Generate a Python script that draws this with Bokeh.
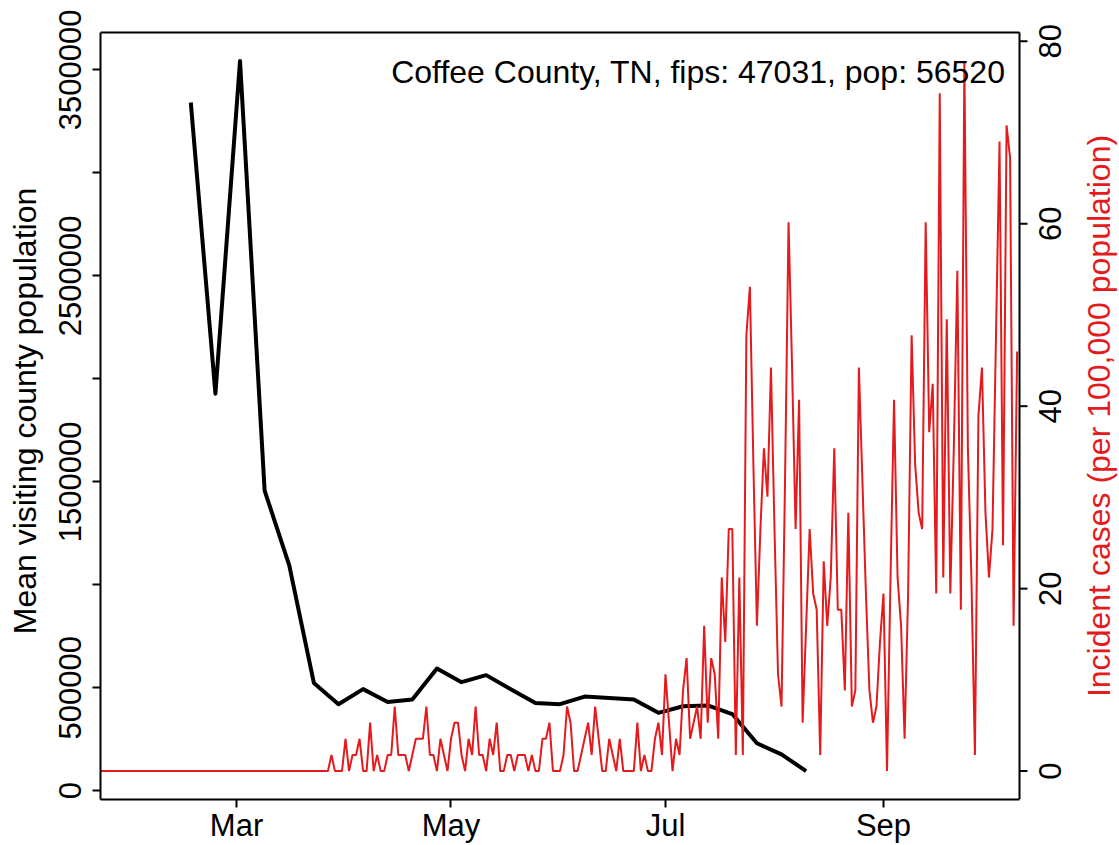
import math
import pandas as pd
from bokeh.plotting import figure
from bokeh.models import Range1d, FixedTicker, Label, BasicTickFormatter
from bokeh.core.properties import value
from bokeh.embed import file_html
from bokeh.resources import INLINE

# ---------------- data ----------------
origin = pd.Timestamp("2020-01-22")

visit_dates = ["2020-02-17", "2020-02-24", "2020-03-02", "2020-03-09", "2020-03-16",
               "2020-03-23", "2020-03-30", "2020-04-06", "2020-04-13", "2020-04-20",
               "2020-04-27", "2020-05-04", "2020-05-11", "2020-05-18", "2020-05-25",
               "2020-06-01", "2020-06-08", "2020-06-15", "2020-06-22", "2020-06-29",
               "2020-07-06", "2020-07-13", "2020-07-20", "2020-07-27", "2020-08-03",
               "2020-08-10"]
mean_visiting = [3342000, 1928000, 3544000, 1457000, 1094000, 523000, 420000, 493000,
                 431000, 443000, 593000, 527000, 561000, 493000, 426000, 420000,
                 457000, 450000, 443000, 378000, 410000, 414000, 372000, 230000,
                 176000, 95000]

case_start = "2020-01-22"
daily_cases = (
    [0] * 66 +
    [1, 0, 0, 0, 2, 0, 1, 1, 2, 0,
     0, 3, 0, 1, 0, 0, 1, 1, 4, 1,
     1, 1, 0, 1, 2, 2, 2, 4, 1, 1,
     0, 2, 1, 0, 2, 3, 3, 1, 0, 2,
     1, 4, 1, 1, 0, 2, 1, 3, 0, 0,
     1, 1, 0, 1, 1, 1, 0, 1, 0, 0,
     2, 2, 3, 0, 0, 0, 1, 4, 3, 0,
     0, 1, 2, 3, 1, 4, 2, 0, 0, 2,
     1, 0, 2, 0, 0, 0, 0, 3, 0, 1,
     0, 0, 2, 3] +
    [1, 6, 3, 0, 2, 1, 5, 7, 2, 3,
     4, 2, 9, 3, 7, 6, 2, 12, 8, 15,
     15, 1, 12, 1, 27, 30, 19, 9, 15, 20,
     17, 25, 15, 6, 4, 18, 34, 25, 15, 23,
     3, 9, 15, 11, 10, 1, 13, 9, 12, 20,
     10, 10, 5, 16, 4, 5, 25, 18, 11, 5,
     3, 4, 8, 11, 0, 12, 23, 12, 9, 2,
     11, 27, 19, 16, 15, 34, 21, 24, 11, 42,
     12, 28, 11, 20, 31, 10, 44, 20, 12, 1,
     22, 25, 16, 12, 15, 27, 39, 14, 40, 38, 9, 26]
)
population = 56520

month_ticks = ["2020-03-01", "2020-05-01", "2020-07-01", "2020-09-01"]
month_labels = ["Mar", "May", "Jul", "Sep"]
xlim_dates = ["2020-02-01", "2020-09-30"]

left_ticks = [0, 500000, 1000000, 1500000, 2000000, 2500000, 3000000, 3500000]
left_labeled = [0, 500000, 1500000, 2500000, 3500000]
right_ticks = [0, 20, 40, 60, 80]
right_tick_labels = ["0", "20", "40", "60", "80"]

title_text = "Coffee County, TN, fips: 47031, pop: 56520"
left_title = "Mean visiting county population"
right_title = "Incident cases (per 100,000 population)"

# ---------------- derived ----------------
def day_index(s):
    return (pd.Timestamp(s) - origin).days

xb = [day_index(d) for d in visit_dates]
case_days = pd.date_range(case_start, periods=len(daily_cases), freq="D")
xr = [(d - origin).days for d in case_days]
yr = [c * 100000.0 / population for c in daily_cases]

def pad(lo, hi, f=0.04):
    r = hi - lo
    return lo - f * r, hi + f * r

x_lo, x_hi = pad(day_index(xlim_dates[0]), day_index(xlim_dates[1]))
yl_lo, yl_hi = pad(min(mean_visiting), max(mean_visiting))
yr_lo, yr_hi = pad(min(yr), max(yr))

FONT = "Liberation Sans"
RED = "#E41A1C"
W, H = 1119, 845
BOX_L, BOX_T, BOX_W, BOX_H = 100, 32, 919, 768   # the plot box, in pixels
EXT_TOP = 10                                      # frame reaches this far above the box
BT = BOX_T - EXT_TOP
BB = H - BOX_T - BOX_H
RIGHT_MARGIN = W - BOX_L - BOX_W
dpp = (x_hi - x_lo) / BOX_W                       # x data units per pixel
upp_l = (yl_hi - yl_lo) / BOX_H
upp_r = (yr_hi - yr_lo) / BOX_H

p = figure(width=W, height=H, output_backend="svg", toolbar_location=None,
           x_range=Range1d(x_lo, x_hi + RIGHT_MARGIN * dpp),
           y_range=Range1d(yl_lo, yl_hi + EXT_TOP * upp_l),
           min_border_left=BOX_L, min_border_right=0, min_border_top=BT, min_border_bottom=BB)
p.extra_y_ranges = {"cases": Range1d(yr_lo, yr_hi + EXT_TOP * upp_r)}
p.grid.visible = False
p.outline_line_color = None
p.background_fill_color = "white"
p.border_fill_color = "white"

p.line(xb, mean_visiting, line_color="black", line_width=4, line_join="round")
p.line(xr, yr, y_range_name="cases", line_color=RED, line_width=2)

# bottom axis
xa = p.xaxis[0]
mt = [day_index(d) for d in month_ticks]
xa.ticker = FixedTicker(ticks=mt)
xa.major_label_overrides = {t: l for t, l in zip(mt, month_labels)}
xa.bounds = (x_lo, x_hi)

# left axis
ya = p.yaxis[0]
ya.ticker = FixedTicker(ticks=left_ticks)
ya.formatter = BasicTickFormatter(use_scientific=False)
ya.major_label_overrides = {t: "" for t in left_ticks if t not in left_labeled}
ya.axis_label = left_title
ya.bounds = (yl_lo, yl_hi)

for ax in (xa, ya):
    ax.axis_line_color = "black"
    ax.axis_line_width = 2
    ax.minor_tick_line_color = None
    ax.major_tick_line_color = "black"
    ax.major_tick_line_width = 2
    ax.major_tick_out = 8
    ax.major_tick_in = 0
    ax.major_label_text_font = FONT
    ax.major_label_text_font_size = "31px"
    ax.major_label_text_color = "black"
    ax.axis_label_text_font = FONT
    ax.axis_label_text_font_size = "32px"
    ax.axis_label_text_font_style = "normal"
    ax.axis_label_text_color = "black"

xa.major_label_standoff = 0
ya.major_label_orientation = "vertical"
ya.major_label_standoff = 11
ya.axis_label_standoff = 14

# top and right edges of the box
p.segment(x0=[x_lo, x_hi], y0=[yl_hi, yl_lo], x1=[x_hi, x_hi], y1=[yl_hi, yl_hi],
          line_color="black", line_width=2)

# right axis: ticks and labels (reading bottom-to-top)
p.segment(x0=[x_hi] * len(right_ticks), x1=[x_hi + 8 * dpp] * len(right_ticks),
          y0=right_ticks, y1=right_ticks, y_range_name="cases",
          line_color="black", line_width=2)
p.text(x=[x_hi + 30 * dpp] * len(right_ticks), y=right_ticks, text=right_tick_labels,
       y_range_name="cases", angle=math.pi / 2, text_align="center",
       text_baseline="middle", text_font=value(FONT), text_font_size="31px",
       text_color="black")
p.text(x=[x_hi + 79 * dpp], y=[(yr_lo + yr_hi) / 2], text=[right_title],
       y_range_name="cases", angle=math.pi / 2, text_align="center",
       text_baseline="middle", text_font=value(FONT), text_font_size="32px",
       text_color=RED)

# title text in top-right corner of the box
tx = x_hi - 14 * dpp
ty = yl_hi - 40 * upp_l
p.add_layout(Label(x=tx, y=ty, text=title_text, text_align="right",
                   text_baseline="alphabetic", text_font=FONT,
                   text_font_size="32px", text_color="black"))

open("out.html", "w").write(file_html(p, INLINE))
